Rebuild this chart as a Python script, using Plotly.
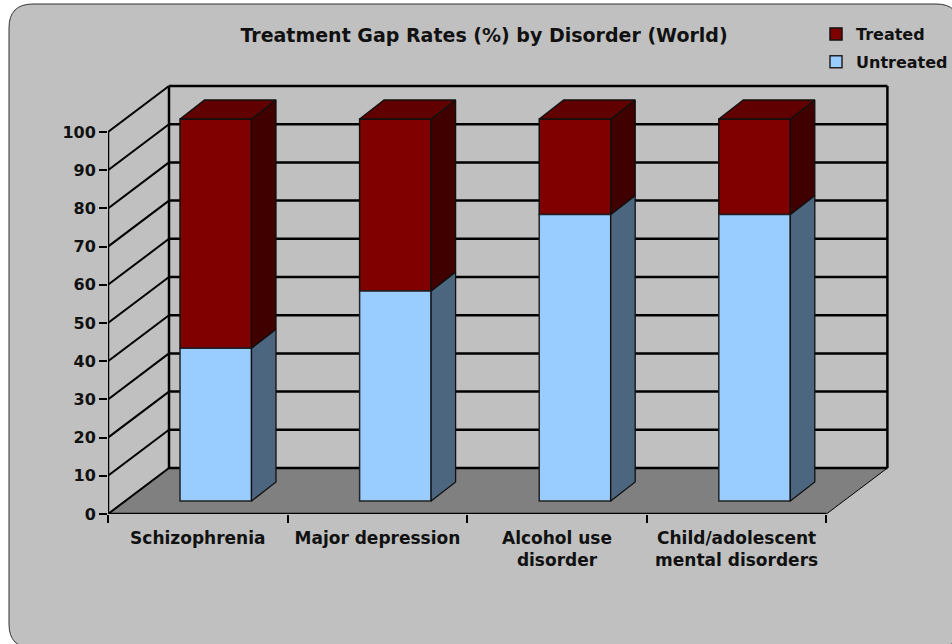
import plotly.graph_objects as go

categories = ["Schizophrenia", "Major depression", "Alcohol use<br>disorder", "Child/adolescent<br>mental disorders"]
untreated = [40, 55, 75, 75]
treated = [60, 45, 25, 25]
y_ticks = [0, 10, 20, 30, 40, 50, 60, 70, 80, 90, 100]

W, H = 952, 644
L, R, T, B = 108, 892, 78, 514
X_MAX = (R - L) / 179.6
Y_MAX = (B - T) / 3.82
N = len(categories)

# oblique projection, in axis units
WALL_DX, WALL_DY = 61 / 179.6, 46 / 3.82
BAR_OX, BAR_OY = 0.1, 3.4
BAR_DX, BAR_DY = 24.5 / 179.6, 19 / 3.82
BAR_W = 0.398

FONT = "DejaVu Sans"
RED, RED_TOP, RED_SIDE = "#800000", "#600000", "#400000"
BLUE, BLUE_SIDE = "#99CCFF", "#4D6680"

centers = [i + 0.5 + BAR_OX for i in range(N)]
base_u = [BAR_OY] * N
base_t = [BAR_OY + u for u in untreated]

fig = go.Figure()
fig.add_bar(x=centers, y=treated, base=base_t, width=BAR_W, name="<b>Treated</b>", legendgroup="a",
            marker=dict(color=RED, line=dict(color="#111111", width=1.5)))
fig.add_bar(x=centers, y=untreated, base=base_u, width=BAR_W, name="<b>Untreated</b>", legendgroup="b",
            marker=dict(color=BLUE, line=dict(color="#222222", width=1.5)))


def faces(polys, fill, line="#111111"):
    xs, ys = [], []
    for p in polys:
        xs += [a for a, _ in p] + [p[0][0], None]
        ys += [b for _, b in p] + [p[0][1], None]
    fig.add_scatter(x=xs, y=ys, mode="lines", fill="toself", fillcolor=fill,
                    line=dict(color=line, width=1.3), showlegend=False, hoverinfo="skip")


def side(c, y0, y1):
    x = c + BAR_W / 2
    return [(x, y0), (x + BAR_DX, y0 + BAR_DY), (x + BAR_DX, y1 + BAR_DY), (x, y1)]


def top(c, y):
    a, b = c - BAR_W / 2, c + BAR_W / 2
    return [(a, y), (b, y), (b + BAR_DX, y + BAR_DY), (a + BAR_DX, y + BAR_DY)]


faces([side(c, BAR_OY, BAR_OY + u) for c, u in zip(centers, untreated)], BLUE_SIDE)
faces([side(c, BAR_OY + u, BAR_OY + u + t) for c, u, t in zip(centers, untreated, treated)], RED_SIDE)
faces([top(c, BAR_OY + u + t) for c, u, t in zip(centers, untreated, treated)], RED_TOP)

# axis lines that stop at the value range
fig.add_scatter(x=[0, 0, N], y=[100, 0, 0], mode="lines", line=dict(color="black", width=2.5),
                showlegend=False, hoverinfo="skip", cliponaxis=False)

shapes = []
# panel, in paper coordinates derived from pixels
px = lambda v: (v - L) / (R - L)
py = lambda v: (B - v) / (B - T)
x0, x1, y0, y1, r = 9, 960, 4, 648, 24
panel = (f"M {px(x0 + r)} {py(y0)} L {px(x1 - r)} {py(y0)} Q {px(x1)} {py(y0)} {px(x1)} {py(y0 + r)} "
         f"L {px(x1)} {py(y1 - r)} Q {px(x1)} {py(y1)} {px(x1 - r)} {py(y1)} L {px(x0 + r)} {py(y1)} "
         f"Q {px(x0)} {py(y1)} {px(x0)} {py(y1 - r)} L {px(x0)} {py(y0 + r)} Q {px(x0)} {py(y0)} {px(x0 + r)} {py(y0)} Z")
shapes.append(dict(type="path", xref="paper", yref="paper", path=panel, fillcolor="#C0C0C0",
                   line=dict(color="#333333", width=1), layer="below"))
# floor
floor = (f"M 0 0 L {N} 0 L {N + WALL_DX} {WALL_DY} L {WALL_DX} {WALL_DY} Z")
shapes.append(dict(type="path", xref="x", yref="y", path=floor, fillcolor="#808080",
                   line=dict(color="black", width=1), layer="below"))
# gridlines on the side wall and back wall
for v in y_ticks:
    shapes.append(dict(type="line", xref="x", yref="y", x0=0, y0=v, x1=WALL_DX, y1=v + WALL_DY,
                       line=dict(color="black", width=2), layer="below"))
    shapes.append(dict(type="line", xref="x", yref="y", x0=WALL_DX, y0=v + WALL_DY, x1=N + WALL_DX, y1=v + WALL_DY,
                       line=dict(color="black", width=2.5), layer="below"))
for xv in (WALL_DX, N + WALL_DX):
    shapes.append(dict(type="line", xref="x", yref="y", x0=xv, y0=WALL_DY, x1=xv, y1=100 + WALL_DY,
                       line=dict(color="black", width=2.5), layer="below"))

fig.update_layout(
    width=W, height=H, autosize=False,
    margin=dict(l=L, r=W - R, t=T, b=H - B, pad=0, autoexpand=False),
    paper_bgcolor="white", plot_bgcolor="rgba(0,0,0,0)",
    barmode="overlay", shapes=shapes,
    font=dict(family=FONT, color="#111111"),
    title=dict(text="<b>Treatment Gap Rates (%) by Disorder (World)</b>",
               font=dict(family=FONT, size=19, color="#111111"),
               x=484 / W, xanchor="center", y=1 - 35 / H, yanchor="middle"),
    xaxis=dict(range=[0, X_MAX], showgrid=False, zeroline=False, showline=False,
               tickmode="array", tickvals=[i + 0.5 for i in range(N)],
               ticktext=[f"<b>{c}</b>" for c in categories], ticks="", ticklabelstandoff=12,
               tickfont=dict(family=FONT, size=17, color="#111111"),
               minor=dict(tickmode="array", tickvals=list(range(N + 1)), ticks="outside",
                          ticklen=8, tickwidth=2, tickcolor="black", showgrid=False)),
    yaxis=dict(range=[0, Y_MAX], showgrid=False, zeroline=False, showline=False,
               tickmode="array", tickvals=y_ticks, ticktext=[f"<b>{v}</b>" for v in y_ticks],
               ticks="outside", ticklen=8, tickwidth=2, tickcolor="black",
               tickfont=dict(family=FONT, size=16, color="#111111")),
    legend=dict(x=816 / W, xref="container", y=1 - 17 / H, yref="container", xanchor="left", yanchor="top",
                bgcolor="rgba(0,0,0,0)", traceorder="grouped", tracegroupgap=4,
                font=dict(family=FONT, size=16, color="#111111"), itemclick=False, itemdoubleclick=False),
)

fig.write_html("out.html", config=dict(displayModeBar=False),
               post_script="document.body.style.margin='0';document.documentElement.style.overflow='hidden';")
